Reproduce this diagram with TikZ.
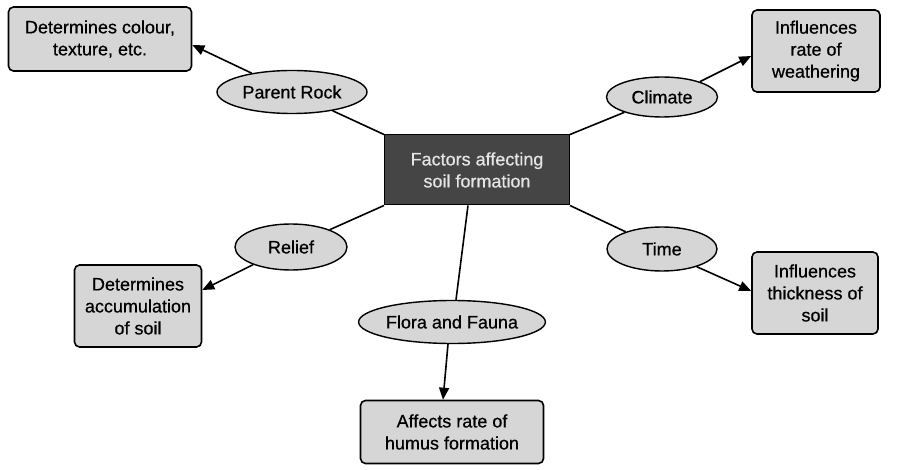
\documentclass[tikz,border=0pt]{standalone}
\usepackage{fontspec}
\setmainfont{Liberation Sans}
\newfontfamily\labelfont{Liberation Sans}[FakeBold=0.6]
\usetikzlibrary{shapes.geometric,arrows.meta}
\definecolor{boxgray}{gray}{0.84}
\definecolor{centergray}{gray}{0.27}
\definecolor{centertext}{gray}{0.9}
\begin{document}
\begin{tikzpicture}[x=1pt,y=-1pt,
  txt/.style={font=\labelfont\fontsize{18}{22}\selectfont},
  infobox/.style={txt,draw=black,line width=1.6pt,rounded corners=5pt,fill=boxgray,align=center,inner sep=0pt},
  factor/.style={txt,ellipse,draw=black,line width=1.4pt,fill=boxgray,inner sep=0pt},
  hub/.style={txt,draw=black,line width=1pt,fill=centergray,text=centertext,align=center,inner sep=0pt},
  link/.style={line width=1.6pt},
  arrowlink/.style={link,-{Triangle[length=12pt,width=10pt]}}]
\useasboundingbox (0,0) rectangle (913,470);

% centre
\node[hub,minimum width=185pt,minimum height=70pt] (c) at (477,170) {Factors affecting\\soil formation};

% factors
\node[factor,minimum width=150pt,minimum height=43pt] (pr) at (292,92) {Parent Rock};
\node[factor,minimum width=111pt,minimum height=40pt] (cl) at (662,97) {Climate};
\node[factor,minimum width=112pt,minimum height=46pt] (re) at (291,247) {Relief};
\node[factor,minimum width=110pt,minimum height=44pt] (ti) at (662,249) {Time};
\node[factor,minimum width=177pt,minimum height=43pt] (ff) at (452,322) {Flora and Fauna};

% effects
\node[infobox,minimum width=183pt,minimum height=64pt] (epr) at (100,39) {Determines colour,\\texture, etc.};
\node[infobox,minimum width=128pt,minimum height=82pt] (ecl) at (816,51) {Influences\\rate of\\weathering};
\node[infobox,minimum width=127pt,minimum height=82pt] (ere) at (138,306) {Determines\\accumulation\\of soil};
\node[infobox,minimum width=126pt,minimum height=82pt] (eti) at (815,293) {Influences\\thickness of\\soil};
\node[infobox,minimum width=183pt,minimum height=63pt] (eff) at (452,432) {Affects rate of\\humus formation};

% centre to factors
\draw[link] (c.north west) -- (pr);
\draw[link] (c.north east) -- (cl);
\draw[link] (c.south west) -- (re);
\draw[link] (c.south east) -- (ti);
\draw[link] ([xshift=-9pt]c.south) -- ([xshift=4pt]ff.north);

% factors to effects
\draw[arrowlink] (pr.155) -- ([yshift=-6pt]epr.east);
\draw[arrowlink] (cl.22) -- ([yshift=-5pt]ecl.west);
\draw[arrowlink] (re.205) -- ([yshift=16pt]ere.east);
\draw[arrowlink] (ti.-27) -- ([yshift=2pt]eti.west);
\draw[arrowlink] ([xshift=-4pt]ff.south) -- ([xshift=-9pt]eff.north);
\end{tikzpicture}
\end{document}
